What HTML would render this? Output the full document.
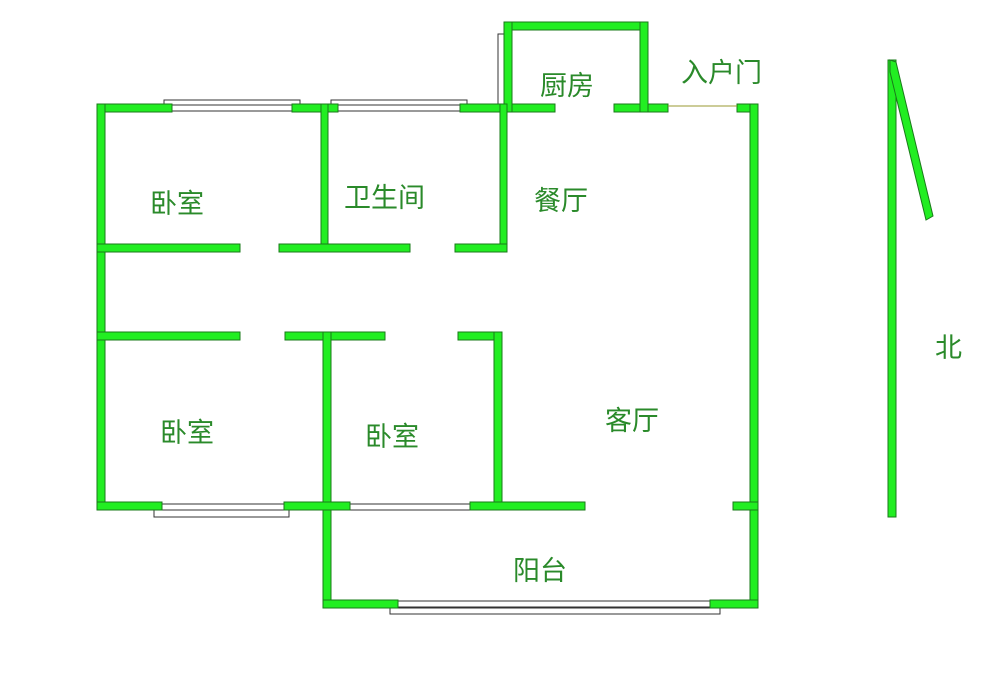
<!DOCTYPE html>
<html><head><meta charset="utf-8"><style>
body{margin:0;background:#fff;width:993px;height:683px;overflow:hidden}
svg{display:block}
.w{fill:#22ee22;stroke:#1a7a1a;stroke-width:1}
.win{fill:#fff;stroke:#333;stroke-width:1}
text{font-family:"Liberation Sans","Noto Sans CJK SC",sans-serif;font-size:27px;fill:#2a8a2a}
</style></head><body>
<svg width="993" height="683" viewBox="0 0 993 683">
<rect class="win" x="164" y="100" width="136" height="6"/>
<rect class="win" x="331" y="100" width="136" height="6"/>
<rect class="win" x="498" y="34" width="6" height="70"/>
<rect class="win" x="154" y="510" width="135" height="7"/>
<rect class="win" x="390" y="608" width="330" height="6"/>
<rect class="win" x="172" y="105" width="122" height="6"/>
<rect class="win" x="338" y="105" width="122" height="6"/>
<rect class="win" x="504" y="38" width="6" height="62"/>
<rect class="win" x="162" y="504" width="122" height="6"/>
<rect class="win" x="350" y="504" width="122" height="6"/>
<rect class="win" x="398" y="601" width="312" height="6"/>
<rect class="w" x="97" y="104" width="75" height="8"/>
<rect class="w" x="292" y="104" width="46" height="8"/>
<rect class="w" x="460" y="104" width="95" height="8"/>
<rect class="w" x="614" y="104" width="54" height="8"/>
<rect class="w" x="737" y="104" width="21" height="8"/>
<line x1="668" y1="106" x2="737" y2="106" stroke="#9a9a30" stroke-width="1"/>
<rect class="w" x="97" y="104" width="8" height="406"/>
<rect class="w" x="750" y="104" width="8" height="504"/>
<rect class="w" x="504" y="22" width="144" height="8"/>
<rect class="w" x="504" y="22" width="8" height="90"/>
<rect class="w" x="640" y="22" width="8" height="90"/>
<rect class="w" x="321" y="104" width="7" height="148"/>
<rect class="w" x="500" y="104" width="7" height="148"/>
<rect class="w" x="97" y="244" width="143" height="8"/>
<rect class="w" x="279" y="244" width="131" height="8"/>
<rect class="w" x="455" y="244" width="52" height="8"/>
<rect class="w" x="97" y="332" width="143" height="8"/>
<rect class="w" x="285" y="332" width="100" height="8"/>
<rect class="w" x="458" y="332" width="44" height="8"/>
<rect class="w" x="494" y="332" width="8" height="178"/>
<rect class="w" x="323" y="332" width="8" height="276"/>
<rect class="w" x="97" y="502" width="65" height="8"/>
<rect class="w" x="284" y="502" width="66" height="8"/>
<rect class="w" x="470" y="502" width="115" height="8"/>
<rect class="w" x="733" y="502" width="25" height="8"/>
<rect class="w" x="323" y="600" width="75" height="8"/>
<rect class="w" x="710" y="600" width="48" height="8"/>
<rect class="w" x="888" y="60" width="8" height="457"/>
<polygon class="w" points="890,60 896,62 933,216 926,220 890,72"/>
<text x="150" y="213">卧室</text>
<text x="344" y="207">卫生间</text>
<text x="534" y="210">餐厅</text>
<text x="540" y="95">厨房</text>
<text x="681" y="82">入户门</text>
<text x="160" y="442">卧室</text>
<text x="365" y="446">卧室</text>
<text x="605" y="430">客厅</text>
<text x="513" y="580">阳台</text>
<text x="935" y="357">北</text>
</svg>
</body></html>
